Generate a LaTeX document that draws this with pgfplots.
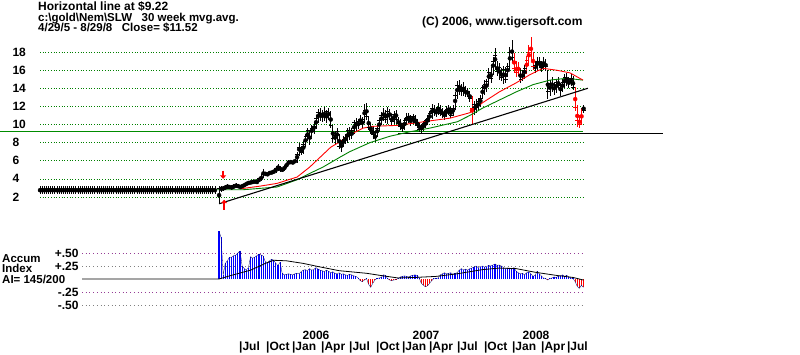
\documentclass[border=0pt]{standalone}
\usepackage{fontspec}
\setmainfont{Liberation Sans}
\usepackage{pgfplots}
\usepackage{pgfplotstable}
\pgfplotsset{compat=1.18}
\usetikzlibrary{arrows.meta}
\definecolor{tgreen}{RGB}{0,128,0}
\definecolor{hgreen}{RGB}{0,140,0}
\definecolor{tred}{RGB}{255,0,0}
\definecolor{tblue}{RGB}{0,0,255}
\definecolor{tpurple}{RGB}{150,60,150}
\newcommand{\lf}{\bfseries\fontsize{12}{12}\selectfont}
\newcommand{\smf}{\bfseries\fontsize{11.5}{11.5}\selectfont}

\pgfplotstableread{
i lo hi cl
0 1.2 3.2 2.9
1 2.6 3.2 2.8
2 2.7 3.2 3.0
3 2.8 3.3 3.1
4 2.9 3.4 3.2
5 2.9 3.3 3.0
6 2.8 3.3 3.1
7 2.9 3.4 3.3
8 3.0 3.5 3.2
9 3.0 3.4 3.1
10 2.9 3.3 3.1
11 3.0 3.4 3.3
12 3.1 3.5 3.3
13 3.2 3.7 3.5
14 3.3 3.8 3.6
15 3.4 3.8 3.5
16 3.4 3.9 3.7
17 3.5 3.9 3.6
18 3.4 3.9 3.8
19 3.6 4.2 4.0
20 3.8 4.4 4.2
21 4.1 5.1 4.5
22 4.3 4.8 4.6
23 4.3 4.7 4.5
24 4.4 4.9 4.7
25 4.5 4.9 4.6
26 4.6 5.0 4.8
27 4.7 5.3 5.1
28 4.9 5.6 5.4
29 4.8 5.4 5.0
30 4.8 5.2 4.9
31 4.9 5.5 5.3
32 5.2 5.8 5.6
33 5.5 6.1 5.8
34 5.6 6.1 5.9
35 5.6 6.0 5.8
36 5.7 6.2 6.0
37 5.8 7.0 6.7
38 6.5 8.0 7.5
39 6.6 7.6 6.9
40 6.7 8.2 7.8
41 7.5 9.0 8.7
42 8.2 9.6 9.3
43 7.7 9.4 8.5
44 8.6 10.0 9.6
45 9.0 10.3 9.8
46 9.5 11.0 10.7
47 10.2 11.7 11.3
48 10.4 11.8 10.9
49 10.3 11.6 11.2
50 10.4 11.9 11.0
51 10.2 11.6 11.4
52 10.5 11.8 11.1
53 9.6 11.5 9.9
54 8.0 10.0 8.5
55 7.8 9.3 8.8
56 8.2 9.6 9.2
57 7.3 9.0 7.6
58 7.0 8.3 7.9
59 7.5 8.7 8.4
60 7.8 9.0 8.5
61 8.0 9.6 9.3
62 8.3 9.7 8.8
63 8.4 9.6 9.4
64 8.9 10.5 10.2
65 9.3 10.7 9.9
66 9.5 10.6 10.3
67 9.9 11.0 10.4
68 9.6 10.8 10.6
69 10.2 12.3 11.6
70 10.5 12.4 10.9
71 9.4 10.9 9.7
72 8.9 10.2 9.4
73 8.4 9.8 8.9
74 8.1 9.2 8.6
75 8.6 9.9 9.6
76 9.3 10.7 10.4
77 9.9 11.4 11.0
78 10.4 11.8 11.2
79 10.2 11.6 10.6
80 10.1 11.9 11.5
81 10.5 11.7 11.0
82 9.9 11.2 10.3
83 10.1 11.5 11.1
84 10.4 11.6 10.6
85 9.7 10.8 10.1
86 9.4 10.6 9.8
87 9.2 10.2 9.6
88 9.4 10.7 10.4
89 9.9 11.3 10.8
90 10.2 11.3 10.6
91 9.8 11.0 10.5
92 10.1 11.2 10.9
93 9.9 11.0 10.2
94 9.6 10.6 9.9
95 9.2 10.3 9.5
96 9.1 10.1 9.8
97 9.3 10.4 10.1
98 9.6 10.6 10.4
99 9.9 11.0 10.7
100 10.3 11.5 11.2
101 10.6 12.3 11.8
102 10.9 12.2 11.4
103 10.8 11.9 11.6
104 11.0 12.4 11.9
105 10.9 12.1 11.2
106 10.7 11.8 11.1
107 10.5 11.6 11.3
108 10.8 12.0 11.7
109 11.1 12.2 11.5
110 10.7 11.9 11.0
111 10.9 12.2 11.8
112 11.6 13.6 13.2
113 12.8 14.8 14.3
114 13.3 14.9 13.8
115 13.1 14.5 14.1
116 13.2 14.7 13.6
117 13.0 14.2 13.5
118 13.0 14.0 13.4
119 12.5 13.7 12.9
121 11.0 12.6 12.2
122 11.3 12.8 11.9
123 11.5 12.9 12.6
124 11.9 13.3 12.9
125 12.8 14.4 14.1
126 13.3 14.9 14.4
127 13.6 15.0 14.8
128 14.4 16.2 15.8
129 14.6 16.3 15.1
130 15.5 17.5 17.0
131 16.0 18.4 17.6
132 15.4 17.0 15.9
133 14.9 16.8 16.3
134 14.8 16.2 15.2
135 14.5 16.5 16.1
136 14.6 16.3 15.0
137 15.2 16.8 16.4
138 16.0 18.6 18.0
139 16.8 19.3 17.4
143 14.6 16.2 15.0
144 14.8 16.0 15.4
145 15.0 16.6 16.2
150 15.7 17.0 16.5
151 15.9 17.5 17.0
152 16.2 17.4 16.6
153 15.8 17.0 16.3
154 16.0 17.5 16.9
155 15.9 17.2 16.4
156 12.8 16.0 13.6
157 13.2 14.9 14.5
158 13.6 15.2 14.1
159 13.3 14.7 14.0
160 13.5 15.0 14.6
161 13.9 15.2 14.3
162 13.2 14.6 13.8
163 13.6 15.0 14.7
164 14.0 15.6 15.2
165 14.3 15.7 14.8
166 14.0 15.2 14.6
167 14.2 15.6 15.1
168 13.8 15.3 14.1
173 11.3 12.2 11.52
}\blackbars

\pgfplotstableread{
i lo hi cl
120 9.9 13.2 11.8
140 15.8 17.9 16.2
141 15.2 17.0 15.7
142 15.4 16.9 16.1
146 15.6 17.6 17.1
147 16.5 18.8 17.9
148 17.0 19.7 18.3
149 16.0 18.0 16.4
169 11.5 14.1 11.9
170 9.7 12.2 10.4
171 9.6 11.0 10.0
172 10.0 11.8 10.8
}\redbars

\pgfplotstableread{
i v
0 0.92
1 0.80
2 0.08
3 0.30
4 0.35
5 0.42
6 0.42
7 0.45
8 0.46
9 0.50
10 0.54
11 0.25
12 0.20
13 0.18
14 0.22
15 0.43
16 0.40
17 0.42
18 0.45
19 0.48
20 0.46
21 0.44
22 0.33
23 0.32
24 0.35
25 0.38
26 0.36
27 0.30
28 0.26
29 0.32
30 0.11
31 0.08
32 0.09
33 0.10
34 0.09
35 0.08
36 0.10
37 0.11
38 0.10
39 0.14
40 0.17
41 0.18
42 0.16
43 0.20
44 0.17
45 0.18
46 0.22
47 0.19
48 0.17
49 0.16
50 0.14
51 0.17
52 0.15
53 0.12
54 0.14
55 0.11
56 0.10
57 0.12
58 0.09
59 0.10
60 0.08
61 0.07
62 0.09
63 0.08
64 0.06
65 0.05
66 0.02
67 -0.03
68 -0.05
69 -0.02
70 0.01
71 -0.10
72 -0.16
73 -0.08
74 -0.02
75 0.01
76 0.02
77 0.03
78 0.08
79 0.07
80 0.01
81 -0.02
82 -0.03
83 -0.02
84 -0.01
85 0.01
86 0.04
87 0.05
88 0.06
89 0.05
90 0.04
91 0.06
92 0.07
93 0.08
94 0.07
95 0.02
96 -0.08
97 -0.12
98 -0.15
99 -0.13
100 -0.08
101 -0.03
102 0.01
103 0.01
104 0.02
105 0.08
106 0.10
107 0.12
108 0.10
109 0.11
110 0.12
111 0.09
112 0.11
113 0.12
114 0.17
115 0.20
116 0.18
117 0.19
118 0.17
119 0.20
120 0.21
121 0.23
122 0.25
123 0.22
124 0.24
125 0.25
126 0.23
127 0.24
128 0.26
129 0.25
130 0.27
131 0.29
132 0.26
133 0.27
134 0.25
135 0.22
136 0.20
137 0.21
138 0.20
139 0.19
140 0.22
141 0.15
142 0.12
143 0.10
144 0.11
145 0.08
146 0.12
147 0.14
148 0.10
149 0.05
150 0.07
151 0.15
152 0.10
153 0.06
154 0.02
155 0.01
156 -0.02
157 0.01
158 0.02
159 0.04
160 0.03
161 0.05
162 0.06
163 0.08
164 0.05
165 0.07
166 0.04
167 0.02
168 0.01
169 -0.05
170 -0.14
171 -0.18
172 -0.12
173 -0.16
}\aidata

\begin{document}
\begin{tikzpicture}
\useasboundingbox (0pt,0pt) rectangle (800pt,354pt);

\node[anchor=base west, inner sep=0, font=\lf] at (38pt,343.5pt) {Horizontal line at \$9.22};
\node[anchor=base west, inner sep=0, font=\smf] at (38pt,332.5pt) {c:\textbackslash gold\textbackslash Nem\textbackslash SLW\ \ \ 30 week mvg.avg.};
\node[anchor=base west, inner sep=0, font=\smf] at (38pt,322.8pt) {4/29/5 - 8/29/8\ \ \ Close= \$11.52};
\node[anchor=base west, inner sep=0, font=\lf] at (422pt,328.5pt) {(C) 2006, www.tigersoft.com};

% ---------------- price panel ----------------
\begin{axis}[at={(40pt,138.9pt)}, anchor=south west, scale only axis,
  width=543pt, height=181.2pt,
  xmin=-85, xmax=172.7, ymin=0, ymax=20,
  axis line style={draw=none}, xtick=\empty,
  ytick={2,4,6,8,10,12,14,16,18}, major tick length=0pt,
  ymajorgrids, grid style={tgreen, line width=0.7pt, dash pattern=on 0.7pt off 2pt},
  yticklabel style={font=\lf, anchor=west, xshift=-31pt},
  /pgf/number format/assume math mode=true,
  clip=false]
\addplot[hgreen, line width=1.2pt] coordinates {(-104,9.22) (172.7,9.22)};
\addplot[black, line width=1.0pt] coordinates {(85,8.97) (210.6,8.97)};
% placeholder weeks
\addplot[only marks, mark=none, black, error bars/.cd, y dir=both, y fixed=0.45, error mark=none,
  error bar style={black, line width=0.7pt}] coordinates {
(-85,2.75) (-84,2.75) (-83,2.75) (-82,2.75) (-81,2.75) (-80,2.75) (-79,2.75) (-78,2.75) (-77,2.75) (-76,2.75)
(-75,2.75) (-74,2.75) (-73,2.75) (-72,2.75) (-71,2.75) (-70,2.75) (-69,2.75) (-68,2.75) (-67,2.75) (-66,2.75)
(-65,2.75) (-64,2.75) (-63,2.75) (-62,2.75) (-61,2.75) (-60,2.75) (-59,2.75) (-58,2.75) (-57,2.75) (-56,2.75)
(-55,2.75) (-54,2.75) (-53,2.75) (-52,2.75) (-51,2.75) (-50,2.75) (-49,2.75) (-48,2.75) (-47,2.75) (-46,2.75)
(-45,2.75) (-44,2.75) (-43,2.75) (-42,2.75) (-41,2.75) (-40,2.75) (-39,2.75) (-38,2.75) (-37,2.75) (-36,2.75)
(-35,2.75) (-34,2.75) (-33,2.75) (-32,2.75) (-31,2.75) (-30,2.75) (-29,2.75) (-28,2.75) (-27,2.75) (-26,2.75)
(-25,2.75) (-24,2.75) (-23,2.75) (-22,2.75) (-21,2.75) (-20,2.75) (-19,2.75) (-18,2.75) (-17,2.75) (-16,2.75)
(-15,2.75) (-14,2.75) (-13,2.75) (-12,2.75) (-11,2.75) (-10,2.75) (-9,2.75) (-8,2.75) (-7,2.75) (-6,2.75)
(-5,2.75) (-4,2.75) (-3,2.75) (-2,2.75)};
% weekly bars
\addplot[only marks, mark=none, black, error bars/.cd, y dir=both, y explicit, error mark=none,
  error bar style={black, line width=0.8pt}]
  table[x=i, y expr={(\thisrow{hi}+\thisrow{lo})/2}, y error expr={(\thisrow{hi}-\thisrow{lo})/2}] {\blackbars};
\addplot[only marks, black, mark=-, mark size=1.9pt, mark options={line width=0.8pt}] table[x=i, y=cl] {\blackbars};
\addplot[only marks, mark=none, tred, error bars/.cd, y dir=both, y explicit, error mark=none,
  error bar style={tred, line width=0.9pt}]
  table[x=i, y expr={(\thisrow{hi}+\thisrow{lo})/2}, y error expr={(\thisrow{hi}-\thisrow{lo})/2}] {\redbars};
\addplot[only marks, tred, mark=-, mark size=1.9pt, mark options={line width=0.9pt}] table[x=i, y=cl] {\redbars};
% 30 week moving average (green)
\addplot[tgreen, line width=0.9pt] coordinates {(-85,2.8) (0,2.8) (11.4,2.8) (27.5,3.1) (37,3.9) (43,4.6) (49.3,5.3) (57.4,6.4) (62,7.0) (71.6,8.0) (81,8.7) (90.6,9.2) (100,9.6) (113,10.3) (119,11.0) (125,11.8) (133,12.7) (141,13.6) (149,14.4) (157,14.9) (165,15.1) (172.7,14.9)};
% short moving average (red)
\addplot[tred, line width=0.9pt] coordinates {(10,2.9) (19.5,3.2) (27.5,3.5) (37,4.2) (43,5.3) (48,6.4) (53,7.5) (57.4,8.1) (62,8.9) (65,9.2) (68.3,9.6) (73,9.8) (84.4,9.9) (94,10.2) (100,10.4) (109.6,10.7) (119,11.3) (125,12.4) (133,13.6) (141,14.6) (147.5,15.5) (153.7,16.2) (160,16.0) (166.5,15.7) (172.7,14.9)};
% trend line
\addplot[black, line width=1.1pt] coordinates {(0,1.25) (175,14.0)};
% arrows
\draw[tred, line width=1.8pt, -{Triangle[length=3.5pt, width=6pt]}] (axis cs:1.9,4.9) -- (axis cs:1.9,4.0);
\draw[tred, line width=1.8pt, -{Triangle[length=3.5pt, width=6pt]}] (axis cs:2.4,0.6) -- (axis cs:2.4,1.7);
\end{axis}

% ---------------- accumulation index panel ----------------
\begin{axis}[at={(82pt,43.8pt)}, anchor=south west, scale only axis,
  width=500.9pt, height=83.2pt,
  xmin=-65, xmax=172.7, ymin=-0.6, ymax=1.0,
  axis line style={draw=none}, major tick length=0pt,
  ytick={-0.5,-0.25,0.25,0.5}, yticklabels={-.50,-.25,+.25,+.50},
  yticklabel style={font=\lf},
  xtick={9.5,22.3,34.6,48.4,61.7,74.5,86.8,99.6,112.9,125.7,139.0,152.8,165.1},
  xticklabels={|Jul,|Oct,|Jan,|Apr,|Jul,|Oct,|Jan,|Apr,|Jul,|Oct,|Jan,|Apr,|Jul},
  xticklabel style={font=\lf, anchor=base west, inner sep=0pt, yshift=-40.5pt},
  /pgf/number format/assume math mode=true,
  clip=false]
\addplot[tpurple, line width=0.7pt, dash pattern=on 0.7pt off 3pt] coordinates {(-65,0.5) (172.7,0.5)};
\addplot[gray, line width=0.7pt, dash pattern=on 0.7pt off 3pt] coordinates {(-65,0.25) (172.7,0.25)};
\addplot[tpurple, line width=0.7pt, dash pattern=on 0.7pt off 3pt] coordinates {(-65,-0.25) (172.7,-0.25)};
\addplot[gray, line width=0.7pt, dash pattern=on 0.7pt off 3pt] coordinates {(-65,-0.5) (172.7,-0.5)};
\addplot[ycomb, tblue, line width=1.1pt, restrict y to domain=0:2] table[x=i, y=v] {\aidata};
\addplot[ycomb, tred, line width=1.1pt, restrict y to domain=-2:0] table[x=i, y=v] {\aidata};
\addplot[tblue!40!black, line width=0.3pt] table[x=i, y=v] {\aidata};
\addplot[black, line width=0.8pt] coordinates {(-65,0) (0,0) (5,0.06) (15,0.17) (22,0.30) (26,0.36) (32,0.35) (40,0.30) (47,0.24) (57,0.16) (70,0.11) (78,0.06) (85,0.02) (93,0.03) (103,0.05) (113,0.10) (125,0.18) (133,0.21) (141,0.20) (150,0.13) (160,0.07) (168,0.03) (173,-0.02)};
\end{axis}

\node[anchor=base west, inner sep=0, font=\smf] at (2pt,91.5pt) {Accum};
\node[anchor=base west, inner sep=0, font=\smf] at (2pt,81.3pt) {Index};
\node[anchor=base west, inner sep=0, font=\smf] at (2pt,70.7pt) {AI= 145/200};
\node[anchor=base, inner sep=0, font=\lf] at (316pt,15pt) {2006};
\node[anchor=base, inner sep=0, font=\lf] at (426pt,15pt) {2007};
\node[anchor=base, inner sep=0, font=\lf] at (536pt,15pt) {2008};
\end{tikzpicture}
\end{document}
